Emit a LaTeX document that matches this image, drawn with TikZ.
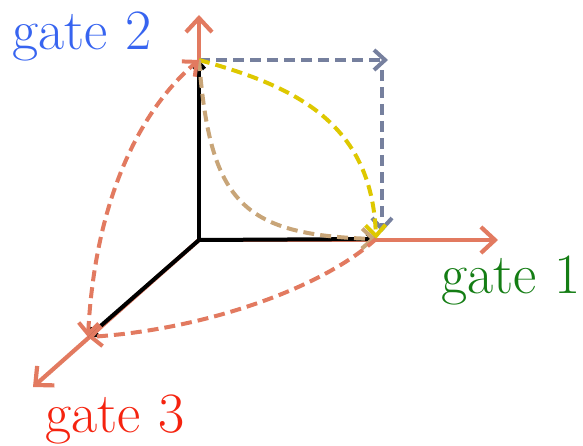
\documentclass[tikz,border=0pt]{standalone}
\usepackage{xcolor}
\usepackage{tikz}
\usetikzlibrary{arrows.meta,positioning}

\definecolor{axisorange}{RGB}{226,122,96}
\definecolor{slategray}{RGB}{118,128,158}
\definecolor{dashyellow}{RGB}{222,200,0}
\definecolor{dashtan}{RGB}{200,165,120}
\definecolor{labblue}{RGB}{55,100,240}
\definecolor{labgreen}{RGB}{20,125,20}
\definecolor{labred}{RGB}{245,35,15}

\begin{document}
\begin{tikzpicture}[x=1pt, y=-1pt, every node/.style={font=\fontsize{57}{64}\selectfont, inner sep=0pt}, axis/.style={-{Straight Barb[length=14pt,width=26pt]}, line width=4.2pt, axisorange}, vec/.style={-{Straight Barb[length=6pt,width=11pt]}, line width=4pt, black}, dsh/.style={-{Straight Barb[length=11pt,width=20pt]}, line width=4pt, dash pattern=on 11pt off 6pt}]
\useasboundingbox (0,0) rectangle (583,446);
\coordinate (o) at (199,240);
\coordinate (ax1) at (498,240); \coordinate (ax2) at (199,15); \coordinate (ax3) at (33,387);
\coordinate (g1) at (376,239); \coordinate (g2) at (199,60); \coordinate (g3) at (88,337);
\coordinate (gh) at (388,60); \coordinate (gv) at (382,70); \coordinate (gb) at (382,232);
\node[labgreen, anchor=base west] (lab1) at (441,293) {gate 1};
\node[labblue, anchor=base west] (lab2) at (12,50) {gate 2};
\node[labred, anchor=base west] (lab3) at (45,432) {gate 3};
\draw[axis] (o) -- (ax1); \draw[axis] (o) -- (ax2); \draw[axis] (o) -- (ax3);
\draw[vec] (o) -- (g1); \draw[vec] (o) -- (g2); \draw[vec] (o) -- (g3);
\draw[dsh, slategray] (g2) -- (gh); \draw[dsh, slategray] (gv) -- (gb);
\draw[dsh, dashyellow] (g2) .. controls (290,85) and (372,120) .. (g1);
\draw[dsh, dashtan] (g2) .. controls (210,200) and (240,235) .. (g1);
\draw[dsh, axisorange, {Straight Barb[length=11pt,width=20pt]}-{Straight Barb[length=11pt,width=20pt]}] (g3) .. controls (95,200) and (140,110) .. (g2);
\draw[dsh, axisorange] (g1) .. controls (320,290) and (200,330) .. (g3);
\end{tikzpicture}
\end{document}
